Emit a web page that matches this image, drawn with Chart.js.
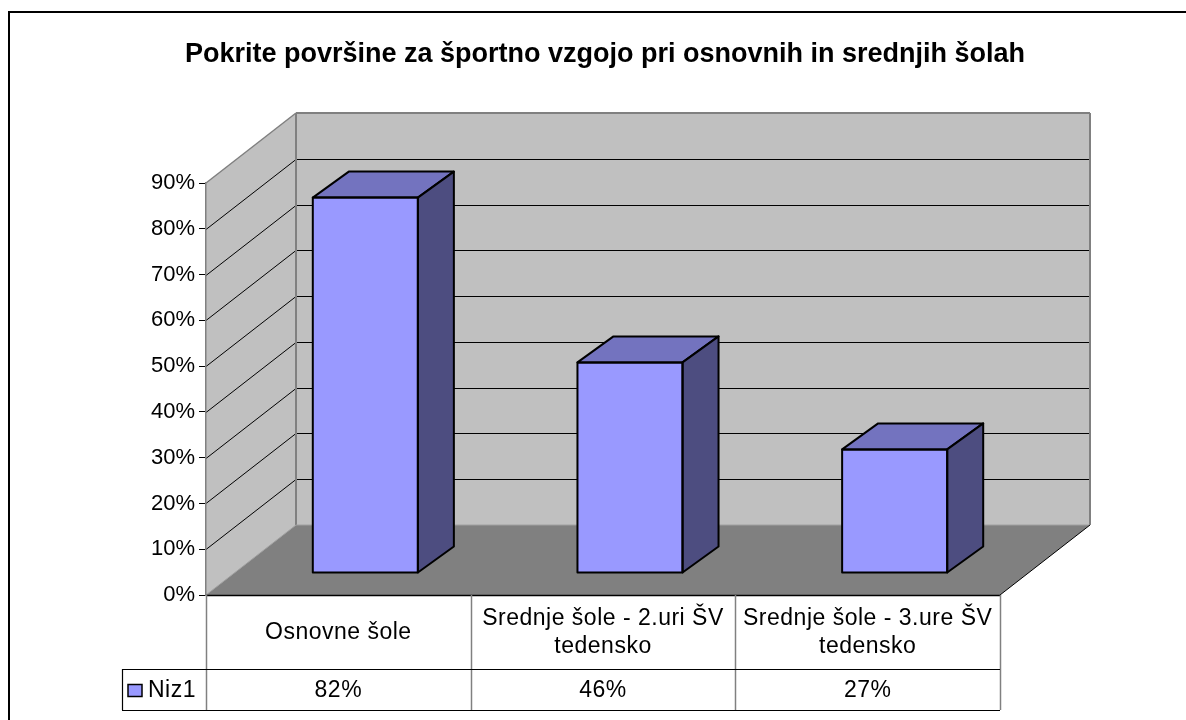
<!DOCTYPE html>
<html>
<head>
<meta charset="utf-8">
<script src="https://cdn.jsdelivr.net/npm/chart.js@4/dist/chart.umd.min.js"></script>
<style>
html,body{margin:0;padding:0;background:#fff;overflow:hidden}
#wrap{width:1186px;height:720px;position:relative}
</style>
</head>
<body>
<div id="wrap"><canvas id="c" width="1186" height="720"></canvas></div>
<script>
// ---- data ----
const titleText = 'Pokrite površine za športno vzgojo pri osnovnih in srednjih šolah';
const categories = [['Osnovne šole'], ['Srednje šole - 2.uri ŠV', 'tedensko'], ['Srednje šole - 3.ure ŠV', 'tedensko']];
const seriesName = 'Niz1';
const values = [0.82, 0.46, 0.27];
const yMin = 0, yMax = 0.9, yStep = 0.1;

// ---- style ----
const FONT = "'Liberation Sans', Arial, Helvetica, sans-serif";
const DEPTH = {x: 90, y: -70};       // 3D depth of the walls/floor
const BAR_OFFSET = {x: 27, y: -22};  // bar front face position inside the depth
const BAR_DEPTH = {x: 36, y: -26};   // depth of the bars
const COL_FRONT = '#9999FF', COL_TOP = '#7373BF', COL_SIDE = '#4D4D80';
const WALL = '#C0C0C0', FLOOR = '#808080', EDGE = '#808080';
const CAT_ROW_H = 74, VAL_ROW_H = 41, LEGEND_W = 84;
const TITLE_Y = 55;
const pct = v => Math.round(v * 100) + '%';

function poly(ctx, pts, fill, stroke, lw) {
  ctx.beginPath();
  pts.forEach((p, i) => i ? ctx.lineTo(p[0], p[1]) : ctx.moveTo(p[0], p[1]));
  ctx.closePath();
  if (fill) { ctx.fillStyle = fill; ctx.fill(); }
  if (stroke) { ctx.lineWidth = lw || 1; ctx.strokeStyle = stroke; ctx.stroke(); }
}
function seg(ctx, x1, y1, x2, y2, color, lw) {
  ctx.beginPath(); ctx.moveTo(x1, y1); ctx.lineTo(x2, y2);
  ctx.lineWidth = lw || 1; ctx.strokeStyle = color; ctx.stroke();
}

const threeD = {
  id: 'threeD',
  beforeDraw(chart) {
    const {ctx, chartArea: a} = chart;
    const y = chart.scales.y;
    ctx.save();
    ctx.fillStyle = '#fff';
    ctx.fillRect(0, 0, chart.width, chart.height);
    ctx.lineWidth = 2; ctx.strokeStyle = '#000';
    ctx.strokeRect(9, 12, chart.width + 10, chart.height + 10);

    const L = a.left, R = a.right, T = y.getPixelForValue(yMax), B = y.getPixelForValue(yMin);
    const dx = DEPTH.x, dy = DEPTH.y;
    poly(ctx, [[L + dx, T + dy], [R + dx, T + dy], [R + dx, B + dy], [L + dx, B + dy]], WALL);
    poly(ctx, [[L, T], [L + dx, T + dy], [L + dx, B + dy], [L, B]], WALL);
    poly(ctx, [[L, B], [R, B], [R + dx, B + dy], [L + dx, B + dy]], FLOOR);
    y.ticks.forEach(t => {
      if (t.value <= yMin + 1e-9 || t.value >= yMax - 1e-9) return;
      const py = Math.round(y.getPixelForValue(t.value)) + 0.5;
      seg(ctx, L + dx, py + dy, R + dx, py + dy, '#000', 1);
      seg(ctx, L, py, L + dx, py + dy, '#000', 1);
    });
    seg(ctx, L, T, L + dx, T + dy, EDGE, 1.5);
    seg(ctx, L + dx, T + dy, R + dx, T + dy, EDGE, 2);
    seg(ctx, R + dx, T + dy, R + dx, B + dy, EDGE, 2);
    seg(ctx, L + dx, T + dy, L + dx, B + dy, EDGE, 2);
    seg(ctx, L + dx, B + dy, R + dx, B + dy, '#A0A0A0', 1);
    seg(ctx, L, B, L + dx, B + dy, '#A0A0A0', 1);
    seg(ctx, R, B, R + dx, B + dy, '#000', 1);
    seg(ctx, L, Math.round(B) + 0.5, R, Math.round(B) + 0.5, '#000', 1.5);
    ctx.restore();
  },
  beforeDatasetsDraw(chart) {
    chart.ctx.save();
    chart.ctx.translate(BAR_OFFSET.x, BAR_OFFSET.y);
  },
  afterDatasetsDraw(chart) {
    const ctx = chart.ctx;
    const meta = chart.getDatasetMeta(0);
    meta.data.forEach(el => {
      const p = el.getProps(['x', 'y', 'base', 'width'], true);
      const l = p.x - p.width / 2, r = p.x + p.width / 2, t = p.y, b = p.base;
      const dx = BAR_DEPTH.x, dy = BAR_DEPTH.y;
      ctx.lineJoin = 'round';
      poly(ctx, [[l, t], [r, t], [r + dx, t + dy], [l + dx, t + dy]], COL_TOP, '#000', 2);
      poly(ctx, [[r, t], [r + dx, t + dy], [r + dx, b + dy], [r, b]], COL_SIDE, '#000', 2);
      poly(ctx, [[l, t], [r, t], [r, b], [l, b]], null, '#000', 2);
    });
    ctx.restore();
  },
  afterDraw(chart) {
    const {ctx, chartArea: a} = chart;
    const x = chart.scales.x, y = chart.scales.y;
    const L = a.left, R = a.right, B = y.getPixelForValue(yMin);
    const n = categories.length, cw = (R - L) / n;
    const r1 = B + CAT_ROW_H, r2 = r1 + VAL_ROW_H;
    ctx.save();
    // title
    ctx.fillStyle = '#000';
    ctx.textAlign = 'center';
    ctx.textBaseline = 'middle';
    ctx.font = 'bold 27px ' + FONT;
    ctx.fillText(titleText, (L + R) / 2 + 2, TITLE_Y);
    // table grid
    for (let i = 0; i <= n; i++) {
      const px = Math.round(L + i * cw) + 0.5;
      seg(ctx, px, B, px, r2, '#808080', 1.5);
    }
    seg(ctx, L - LEGEND_W, Math.round(r1) + 0.5, R, Math.round(r1) + 0.5, '#000', 1.2);
    seg(ctx, L - LEGEND_W, Math.round(r2) + 0.5, R, Math.round(r2) + 0.5, '#000', 1.2);
    seg(ctx, Math.round(L - LEGEND_W) + 0.5, r1, Math.round(L - LEGEND_W) + 0.5, r2, '#000', 1.2);
    // table texts
    ctx.fillStyle = '#000';
    ctx.font = '23px ' + FONT;
    if ('letterSpacing' in ctx) ctx.letterSpacing = '0.5px';
    const lh = 28;
    categories.forEach((lines, i) => {
      const cx = x.getPixelForValue(i);
      const cy = (B + r1) / 2 - (lines.length - 1) * lh / 2;
      lines.forEach((s, k) => ctx.fillText(s, cx, cy + k * lh + 1));
      ctx.fillText(pct(values[i]), cx, (r1 + r2) / 2 + 1);
    });
    // legend cell
    const my = (r1 + r2) / 2;
    ctx.fillStyle = COL_FRONT;
    ctx.fillRect(L - 78, my - 5, 14, 12);
    ctx.lineWidth = 1.5; ctx.strokeStyle = '#000';
    ctx.strokeRect(L - 78, my - 5, 14, 12);
    ctx.fillStyle = '#000';
    ctx.textAlign = 'left';
    ctx.fillText(seriesName, L - 58, my + 1);
    ctx.restore();
  }
};

new Chart(document.getElementById('c'), {
  type: 'bar',
  data: {
    labels: categories,
    datasets: [{
      label: seriesName,
      data: values,
      backgroundColor: COL_FRONT,
      borderColor: '#000',
      borderWidth: 0,
      borderSkipped: false,
      barPercentage: 0.397,
      categoryPercentage: 1,
      clip: false
    }]
  },
  options: {
    responsive: false,
    animation: false,
    events: [],
    layout: {padding: {left: 0, right: 186, top: 183, bottom: 125}},
    plugins: {
      legend: {display: false},
      tooltip: {enabled: false},
      title: {display: false}
    },
    scales: {
      x: {display: false, offset: true},
      y: {
        min: yMin, max: yMax,
        afterFit(scale) { scale.width = 206; },
        ticks: {stepSize: yStep, color: '#000', padding: 4, font: {family: FONT, size: 22}, callback: v => pct(v)},
        grid: {drawOnChartArea: false, drawTicks: true, tickLength: 7, color: '#000', lineWidth: 1},
        border: {display: true, color: '#808080', width: 1.5}
      }
    }
  },
  plugins: [threeD]
});
</script>
</body>
</html>
